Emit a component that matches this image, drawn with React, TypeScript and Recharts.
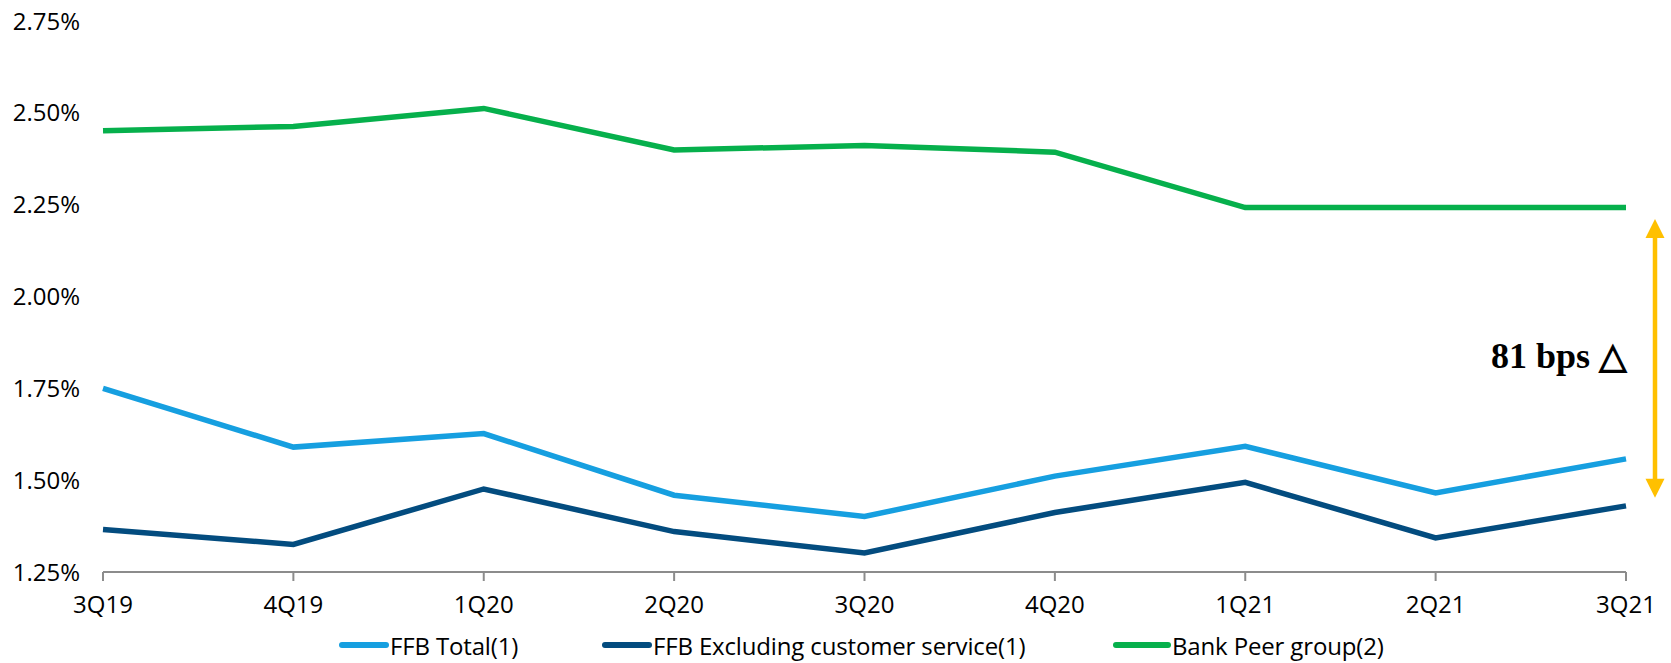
import { LineChart, Line, XAxis, YAxis, Legend, ReferenceLine } from "recharts";

const quarters = ["3Q19", "4Q19", "1Q20", "2Q20", "3Q20", "4Q20", "1Q21", "2Q21", "3Q21"];
const ffbTotal = [1.75, 1.59, 1.627, 1.459, 1.401, 1.511, 1.592, 1.465, 1.558];
const ffbExCustomer = [1.366, 1.325, 1.476, 1.36, 1.302, 1.412, 1.494, 1.343, 1.43];
const bankPeer = [2.451, 2.463, 2.512, 2.399, 2.411, 2.393, 2.242, 2.242, 2.242];
const yTicks = [1.25, 1.5, 1.75, 2.0, 2.25, 2.5, 2.75];

const SERIES = [
  { key: "total", name: "FFB Total(1)", color: "#169fe0", values: ffbTotal },
  { key: "ex", name: "FFB Excluding customer service(1)", color: "#034c7f", values: ffbExCustomer },
  { key: "peer", name: "Bank Peer group(2)", color: "#06b04c", values: bankPeer },
];

const chartData = quarters.map((q, i) => ({
  name: q,
  total: ffbTotal[i],
  ex: ffbExCustomer[i],
  peer: bankPeer[i],
}));

const FONT = "'Open Sans', 'Noto Sans', sans-serif";
const AXIS_GRAY = "#8c8c8c";
const GOLD = "#ffc000";
// left edge of each legend entry
const LEGEND_LEFT = [339, 602, 1113];

function GapArrow(props: any) {
  const { x1, y1, y2 } = props;
  const x = x1 + 29;
  const top = Math.min(y1, y2);
  const bot = Math.max(y1, y2);
  const head = 19;
  const hw = 9.5;
  return (
    <g>
      <line x1={x} y1={top + head - 2} x2={x} y2={bot - head + 2} stroke={GOLD} strokeWidth={4.5} />
      <path d={`M${x},${top} L${x + hw},${top + head} L${x - hw},${top + head} Z`} fill={GOLD} />
      <path d={`M${x},${bot} L${x + hw},${bot - head} L${x - hw},${bot - head} Z`} fill={GOLD} />
      <text
        x={x1 + 1}
        y={(top + bot) / 2 + 10}
        textAnchor="end"
        fontFamily="'Liberation Serif', 'Times New Roman', serif"
        fontWeight="bold"
        fontSize={36}
        fill="#000"
      >
        81 bps △
      </text>
    </g>
  );
}

function LegendContent() {
  return (
    <div style={{ position: "relative", height: 30, fontFamily: FONT, fontSize: 24, color: "#000" }}>
      {SERIES.map((s, i) => (
        <div
          key={s.key}
          style={{ position: "absolute", left: LEGEND_LEFT[i], top: 0, height: 30, display: "flex", alignItems: "center", whiteSpace: "nowrap" }}
        >
          <svg width={i === 2 ? 58 : 50} height={10} style={{ marginRight: 1 }}>
            <line x1={3} y1={5} x2={i === 2 ? 55 : 47} y2={5} stroke={s.color} strokeWidth={6} strokeLinecap="round" />
          </svg>
          <span style={{ letterSpacing: -0.15 }}>{s.name}</span>
        </div>
      ))}
    </div>
  );
}

export default function App() {
  return (
    <div style={{ width: 1671, height: 663, background: "#fff" }}>
      <style>{`body{margin:0}`}</style>
      <LineChart width={1671} height={663} data={chartData} margin={{ top: 21, right: 45, left: 0, bottom: 61 }}>
        <XAxis
          dataKey="name"
          height={30}
          tick={{ fill: "#000", fontSize: 24, fontFamily: FONT }}
          axisLine={{ stroke: AXIS_GRAY, strokeWidth: 2 }}
          tickLine={{ stroke: AXIS_GRAY, strokeWidth: 2 }}
          tickSize={9}
          tickMargin={15}
          interval={0}
        />
        <YAxis
          width={103}
          domain={[1.25, 2.75]}
          ticks={yTicks}
          tickFormatter={(v: number) => `${v.toFixed(2)}%`}
          tick={{ fill: "#000", fontSize: 24, fontFamily: FONT }}
          axisLine={false}
          tickLine={false}
          tickSize={0}
          tickMargin={23}
        />
        {SERIES.map((s) => (
          <Line
            key={s.key}
            type="linear"
            dataKey={s.key}
            name={s.name}
            stroke={s.color}
            strokeWidth={5.5}
            dot={false}
            activeDot={false}
            isAnimationActive={false}
          />
        ))}
        <ReferenceLine
          segment={[
            { x: "3Q21", y: 2.211 },
            { x: "3Q21", y: 1.452 },
          ]}
          ifOverflow="visible"
          shape={GapArrow}
        />
        <Legend
          verticalAlign="middle"
          align="center"
          content={LegendContent}
          wrapperStyle={{ top: 630, left: 0, width: 1671 }}
        />
      </LineChart>
    </div>
  );
}
